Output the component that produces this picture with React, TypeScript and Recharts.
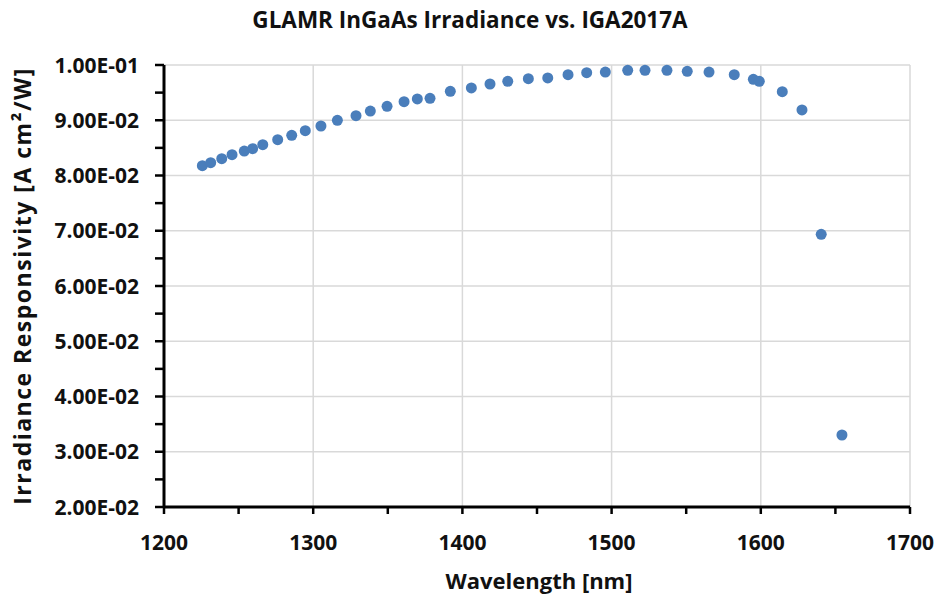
import React from 'react';
import { ScatterChart, Scatter, XAxis, YAxis, CartesianGrid } from 'recharts';

// wavelength [nm]
const wavelength = [
  1225.7, 1231.3, 1238.7, 1245.6, 1253.8, 1259.4, 1266.2, 1276.2, 1285.6, 1294.7,
  1305.2, 1316.2, 1328.7, 1338.3, 1349.5, 1360.9, 1369.8, 1378.3, 1391.9, 1406.0,
  1418.5, 1430.4, 1444.2, 1457.2, 1470.8, 1483.3, 1495.8, 1510.8, 1522.4, 1537.1,
  1550.7, 1565.3, 1582.2, 1595.0, 1599.0, 1614.4, 1627.6, 1640.5, 1654.4,
];

// irradiance responsivity [A cm2/W]
const responsivity = [
  0.08177, 0.08232, 0.08304, 0.08376, 0.08443, 0.08485, 0.08557, 0.08648, 0.08728, 0.08811,
  0.08896, 0.08999, 0.09082, 0.09167, 0.09252, 0.09336, 0.09385, 0.09397, 0.09524, 0.09584,
  0.09656, 0.09705, 0.09752, 0.09765, 0.09824, 0.09861, 0.09873, 0.09904, 0.09904, 0.09904,
  0.09886, 0.09873, 0.09824, 0.09741, 0.09705, 0.09517, 0.09186, 0.06936, 0.03303,
];

const xMajorTicks = [1200, 1300, 1400, 1500, 1600, 1700];
const xAllTicks = [1200, 1250, 1300, 1350, 1400, 1450, 1500, 1550, 1600, 1650, 1700];
const yMajorTicks = [0.02, 0.03, 0.04, 0.05, 0.06, 0.07, 0.08, 0.09, 0.1];
const yAllTicks = [
  0.02, 0.025, 0.03, 0.035, 0.04, 0.045, 0.05, 0.055, 0.06,
  0.065, 0.07, 0.075, 0.08, 0.085, 0.09, 0.095, 0.1,
];

const data = wavelength.map((w, i) => ({ x: w, y: responsivity[i] }));

const FONT = '"Open Sans", sans-serif';

// 0.1 -> "1.00E-01"
const sci = (v: number) => {
  const [m, e] = v.toExponential(2).split('e');
  const n = Number(e);
  const sign = n < 0 ? '-' : '+';
  return `${m}E${sign}${String(Math.abs(n)).padStart(2, '0')}`;
};

const XTick = (props: any) => {
  const { x, y, payload } = props;
  const v = payload.value;
  const major = xMajorTicks.includes(v);
  return (
    <g>
      <line x1={x} x2={x} y1={y} y2={y + 7} stroke="#000" strokeWidth={2.5} />
      {major && (
        <text x={x} y={y + 43} textAnchor="middle" fontFamily={FONT} fontWeight={700} fontSize={21} fill="#111">
          {v}
        </text>
      )}
    </g>
  );
};

const YTick = (props: any) => {
  const { x, y, payload } = props;
  const v = payload.value;
  const major = yMajorTicks.some((t) => Math.abs(t - v) < 1e-9);
  return (
    <g>
      <line x1={x - 9} x2={x} y1={y} y2={y} stroke="#000" strokeWidth={2.5} />
      {major && (
        <text x={x - 25} y={y} dy="0.36em" textAnchor="end" fontFamily={FONT} fontWeight={700} fontSize={21} fill="#111">
          {sci(v)}
        </text>
      )}
    </g>
  );
};

export default function App() {
  return (
    <div style={{ position: 'relative', width: 934, height: 589, background: '#fff', color: '#111' }}>
      <div
        style={{
          position: 'absolute', left: -5, top: -3, width: 934, textAlign: 'center', whiteSpace: 'nowrap',
          fontFamily: FONT, fontWeight: 700, fontSize: 22.5, lineHeight: '30px',
        }}
      >
        GLAMR InGaAs Irradiance vs. IGA2017A
      </div>
      <div
        style={{
          position: 'absolute', left: -286.5, top: 263, width: 600, height: 30, textAlign: 'center', whiteSpace: 'nowrap',
          transform: 'rotate(-90deg)', fontFamily: FONT, fontWeight: 700, fontSize: 23, lineHeight: '30px',
          letterSpacing: 1.5,
        }}
      >
        Irradiance Responsivity [A cm²/W]
      </div>
      <div
        style={{
          position: 'absolute', left: 156, top: 556.5, width: 750, textAlign: 'center', whiteSpace: 'nowrap',
          fontFamily: FONT, fontWeight: 700, fontSize: 22, lineHeight: '30px',
        }}
      >
        Wavelength [nm]
      </div>
      <ScatterChart width={934} height={589} margin={{ top: 57, right: 32, bottom: 0, left: 0 }}>
        <CartesianGrid
          stroke="#d9d9d9"
          strokeWidth={1.5}
          horizontalValues={yMajorTicks}
          verticalValues={xMajorTicks}
        />
        <XAxis
          type="number"
          dataKey="x"
          domain={[1200, 1700]}
          ticks={xAllTicks}
          interval={0}
          height={90}
          tickSize={0}
          tickMargin={0}
          tickLine={false}
          axisLine={{ stroke: '#000', strokeWidth: 3 }}
          tick={<XTick />}
        />
        <YAxis
          type="number"
          dataKey="y"
          domain={[0.02, 0.1]}
          ticks={yAllTicks}
          interval={0}
          width={156}
          tickSize={0}
          tickMargin={0}
          tickLine={false}
          axisLine={{ stroke: '#000', strokeWidth: 3 }}
          tick={<YTick />}
        />
        <Scatter
          data={data}
          fill="#4A7EBB"
          shape={(p: any) => <circle cx={p.cx} cy={p.cy} r={5.5} fill="#4A7EBB" />}
          isAnimationActive={false}
        />
      </ScatterChart>
    </div>
  );
}
